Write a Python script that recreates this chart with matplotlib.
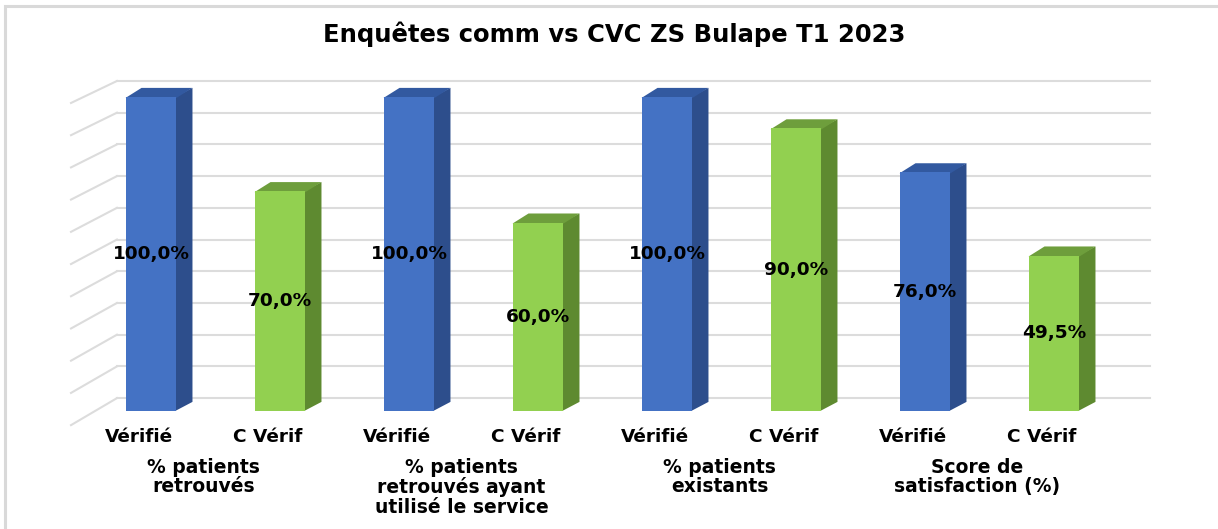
import numpy as np
import matplotlib.pyplot as plt
from matplotlib.patches import Polygon, Rectangle

# data
groups = ["% patients\nretrouvés", "% patients\nretrouvés ayant\nutilisé le service",
          "% patients\nexistants", "Score de\nsatisfaction (%)"]
series = ["Vérifié", "C Vérif"]
verifie = [100.0, 100.0, 100.0, 76.0]
c_verif = [70.0, 60.0, 90.0, 49.5]
title = "Enquêtes comm vs CVC ZS Bulape T1 2023"

W, H = 1218, 529
px_x0, px_dx = 151, 129     # bar centre pixel, pixel step between bars
px_base, px_per = 411, 3.14  # baseline pixel, pixels per percent

colors = {
    "Vérifié": ("#4472C4", "#2D4E8C", "#3259A0"),
    "C Vérif": ("#92D050", "#5E8A30", "#6E9E3C"),
}

plt.rcParams['font.family'] = ['DejaVu Sans']
plt.rcParams['font.weight'] = 'bold'

fig = plt.figure(figsize=(W / 100, H / 100), dpi=100)
ax = fig.add_axes([0, 0, 1, 1])
ax.set_xlim(-px_x0 / px_dx, (W - px_x0) / px_dx)
ax.set_ylim((px_base - H) / px_per, px_base / px_per)
ax.axis('off')

# chart frame (only top/left visible)
fig.patches.append(Rectangle((5 / W, -0.1), 1.2, 1 - 6 / H + 0.1, transform=fig.transFigure,
                             fill=False, edgecolor="#D9D9D9", linewidth=2.2))

# walls: back gridlines and left side slants
wall_left, wall_right, side_front = -0.264, 7.744, -0.62
for lvl in np.arange(0, 101, 10):
    yb = 4.1 + lvl * 1.01
    yf = -4.5 + lvl * 1.026
    ax.plot([wall_left, wall_right], [yb, yb], color="#DCDCDC", lw=1.5, zorder=1)
    ax.plot([side_front, wall_left], [yf, yb], color="#DCDCDC", lw=1.5, zorder=1)

bw = 0.395
ddx, ddy = 0.124, 2.9

xs = np.arange(len(groups) * 2)
vals = []
names = []
for v, c in zip(verifie, c_verif):
    vals += [v, c]
    names += series

for x, v, name in zip(xs, vals, names):
    front, side, top = colors[name]
    r = x + bw / 2
    l = x - bw / 2
    ax.add_patch(Polygon([(r - 0.01, 0), (r + ddx, ddy), (r + ddx, v + ddy), (r - 0.01, v)],
                         closed=True, facecolor=side, edgecolor='none', zorder=2))
    ax.add_patch(Polygon([(l, v - 0.3), (r, v - 0.3), (r + ddx, v + ddy), (l + ddx, v + ddy)],
                         closed=True, facecolor=top, edgecolor='none', zorder=2))
    ax.bar(x, v, width=bw, color=front, linewidth=0, zorder=3)
    ax.text(x, v / 2, f"{v:.1f}%".replace(".", ","), ha='center', va='center',
            fontsize=13.3, fontweight='bold', color='black', zorder=5)
    ax.text(x - 0.093, -8.3, name, ha='center', va='center',
            fontsize=13.3, fontweight='bold', color='black')

for g, label in enumerate(groups):
    ax.text(2 * g + 0.5 - 0.093, -15.0, label, ha='center', va='top',
            fontsize=13.5, fontweight='bold', color='black', linespacing=1.02)

fig.text(614 / W, 1 - 34 / H, title, ha='center', va='center',
         fontsize=17.5, fontweight='bold', color='black')

fig.savefig("out.png", dpi=100)
